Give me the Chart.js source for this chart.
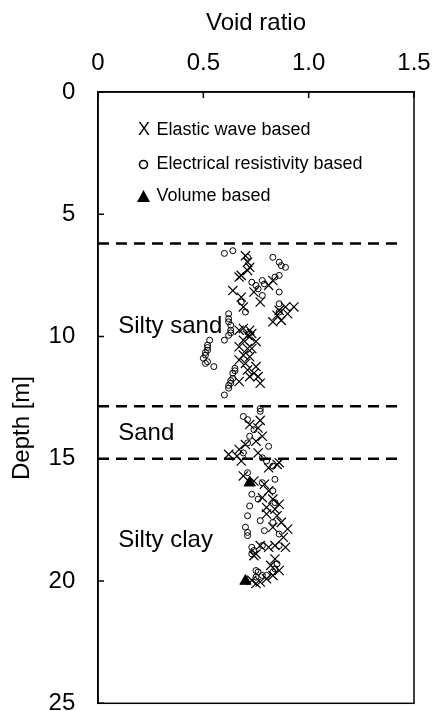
<!DOCTYPE html>
<html>
<head>
<meta charset="utf-8">
<script src="https://cdn.jsdelivr.net/npm/chart.js@4.4.1/dist/chart.umd.min.js"></script>
<style>
body{margin:0;background:#fff}
canvas{display:block}
</style>
</head>
<body>
<canvas id="chart" width="432" height="711"></canvas>
<script>

// void ratio / depth [m]
const elasticVoid=[0.70,0.71,0.72,0.71,0.68,0.67,0.83,0.81,0.64,0.74,0.68,0.77,0.69,0.93,0.89,0.86,0.90,0.85,0.87,0.83,
    0.67,0.72,0.69,0.73,0.71,0.75,0.72,0.69,0.67,0.71,0.73,0.69,0.72,0.67,0.70,0.75,0.71,0.74,0.72,0.76,0.67,0.77,
    0.77,0.72,0.76,0.78,0.75,0.70,0.67,0.62,0.76,0.66,0.68,0.86,0.85,0.81,0.69,0.74,0.79,0.81,0.78,0.83,0.86,0.80,0.84,
    0.80,0.85,0.87,0.83,0.90,0.88,0.81,0.84,0.89,0.77,0.75,0.74,0.82,0.86,0.83,0.80,0.77,0.75,0.73,0.84]
const elasticDepth=[6.70,6.96,7.17,7.30,7.50,7.57,7.71,7.91,8.12,8.18,8.39,8.59,8.79,8.79,8.79,8.93,9.07,9.13,9.34,9.40,
    9.74,9.74,9.67,9.88,9.95,10.20,10.01,10.15,10.42,10.49,10.49,10.76,10.83,10.96,11.10,11.23,11.37,11.50,11.64,11.64,11.84,11.91,
    13.43,13.60,13.74,14.08,14.28,14.42,14.62,14.82,14.76,14.89,15.09,15.16,15.23,15.37,15.70,15.91,16.04,16.31,16.59,16.65,16.86,16.99,17.06,
    17.26,17.33,17.60,17.80,17.87,18.21,18.62,18.55,18.62,18.55,18.89,18.96,19.36,19.57,19.77,19.91,20.04,20.10,19.97,19.10]

const resistVoid=[0.60,0.64,0.71,0.83,0.86,0.87,0.89,0.86,0.84,0.73,0.75,0.78,0.76,0.79,0.78,0.86,0.68,0.70,0.86,0.86,
    0.62,0.62,0.62,0.63,0.63,0.63,0.62,0.60,0.53,0.52,0.52,0.52,0.51,0.51,0.50,0.51,0.52,0.55,0.65,0.65,0.64,0.64,0.63,0.63,0.62,0.62,0.60,
    0.77,0.77,0.69,0.71,0.74,0.72,0.71,0.81,0.69,0.78,0.80,0.83,0.71,0.78,0.84,0.73,0.83,0.76,0.84,0.72,
    0.71,0.77,0.83,0.70,0.71,0.71,0.79,0.86,0.86,0.78,0.73,0.74,0.73,0.85,0.84,0.83,0.80,0.78,0.75,0.75,0.76]
const resistDepth=[6.60,6.49,6.76,6.76,6.96,7.10,7.17,7.50,7.57,7.78,7.91,7.71,8.05,7.85,8.32,8.18,8.59,9.00,8.66,9.00,
    9.07,9.27,9.40,9.54,9.74,9.85,9.95,10.15,10.15,10.35,10.45,10.56,10.65,10.76,10.89,11.10,11.03,11.23,11.30,11.40,11.50,11.71,11.80,11.91,12.00,12.11,12.39,
    12.95,13.06,13.27,13.40,13.81,14.08,14.35,14.49,14.76,14.96,15.09,15.30,15.57,15.98,15.84,16.45,16.31,16.65,16.79,16.93,
    17.33,17.53,17.60,17.80,18.01,18.14,17.94,18.08,18.55,18.55,18.62,18.75,18.89,19.30,19.50,19.63,19.77,19.77,19.84,19.57,19.63]

const volumeVoid=[0.72,0.70]
const volumeDepth=[15.98,20.0]

// layer boundaries
const layerDepths=[6.2,12.85,15.0]
const layerSpan=[0,1.45]

const layerNames=["Silty sand","Sand","Silty clay"]
const layerNameDepths=[9.6,13.98,18.33]

const xTickLabels=["0","0.5","1.0","1.5"]
const legendNames=["Elastic wave based","Electrical resistivity based","Volume based"]

const FONT="'Liberation Sans', Arial, sans-serif"
Chart.defaults.font.family=FONT
Chart.defaults.color="#000"

function pts(xs,ys){
    return xs.map((x,i)=>({x:x,y:ys[i]}))
}

const layerSets=layerDepths.map(d=>({
    data:layerSpan.map(x=>({x:x,y:d})),
    showLine:true,
    borderColor:"#000",
    borderWidth:2.5,
    borderDash:[11,7],
    pointRadius:0,
    order:5
}))

const decor={
    id:"decor",
    afterDatasetsDraw(chart){
        const ctx=chart.ctx
        const a=chart.chartArea
        const xs=chart.scales.x
        const ys=chart.scales.y
        ctx.save()

        ctx.strokeStyle="#000"
        ctx.lineWidth=1.5
        ctx.strokeRect(a.left,a.top,a.right-a.left,a.bottom-a.top)

        // inward tick marks
        ctx.beginPath()
        xs.ticks.forEach(t=>{
            const px=xs.getPixelForValue(t.value)
            ctx.moveTo(px,a.top)
            ctx.lineTo(px,a.top+6)
        })
        ys.ticks.forEach(t=>{
            const py=ys.getPixelForValue(t.value)
            ctx.moveTo(a.left,py)
            ctx.lineTo(a.left+6,py)
        })
        ctx.stroke()

        // layer names
        ctx.fillStyle="#000"
        ctx.font="24px "+FONT
        ctx.textAlign="left"
        ctx.textBaseline="middle"
        layerNames.forEach((n,i)=>{
            ctx.fillText(n,xs.getPixelForValue(0.096),ys.getPixelForValue(layerNameDepths[i]))
        })

        // legend
        ctx.font="18px "+FONT
        const ly=[130,164.5,196]
        legendNames.forEach((n,i)=>{
            ctx.fillText(n,156.5,ly[i])
        })
        ctx.font="18px "+FONT
        ctx.textAlign="center"
        ctx.fillText("X",144,ly[0])
        ctx.lineWidth=1.6
        ctx.beginPath()
        ctx.arc(143.5,ly[1],4,0,Math.PI*2)
        ctx.stroke()
        ctx.beginPath()
        ctx.moveTo(143.5,ly[2]-6)
        ctx.lineTo(150,ly[2]+6)
        ctx.lineTo(137,ly[2]+6)
        ctx.closePath()
        ctx.fill()

        // y axis title
        ctx.font="24px "+FONT
        ctx.translate(22,428)
        ctx.rotate(-Math.PI/2)
        ctx.textAlign="center"
        ctx.fillText("Depth [m]",0,0)

        ctx.restore()
    }
}

new Chart(document.getElementById("chart"),{
    type:"scatter",
    data:{
        datasets:[
            {
                label:legendNames[0],
                data:pts(elasticVoid,elasticDepth),
                pointStyle:"crossRot",
                pointRadius:6.5,
                borderColor:"#000",
                borderWidth:1.2,
                order:2
            },
            {
                label:legendNames[1],
                data:pts(resistVoid,resistDepth),
                pointStyle:"circle",
                pointRadius:3,
                borderColor:"#000",
                backgroundColor:"rgba(0,0,0,0)",
                borderWidth:1,
                order:3
            },
            {
                label:legendNames[2],
                data:pts(volumeVoid,volumeDepth),
                pointStyle:"triangle",
                pointRadius:6.5,
                borderColor:"#000",
                backgroundColor:"#000",
                borderWidth:1,
                order:1
            },
            ...layerSets
        ]
    },
    options:{
        responsive:false,
        animation:false,
        layout:{padding:{left:0,right:18,top:0,bottom:4}},
        plugins:{
            legend:{display:false},
            tooltip:{enabled:false}
        },
        scales:{
            x:{
                type:"linear",
                position:"top",
                min:0,
                max:1.5,
                ticks:{
                    stepSize:0.5,
                    padding:14,
                    font:{size:24},
                    callback:(v,i)=>xTickLabels[i]
                },
                grid:{display:false,drawTicks:false},
                border:{color:"#000",width:1.5},
                title:{display:true,text:"Void ratio",font:{size:24},padding:{top:9,bottom:0}},
                afterFit(s){
                    s.height=92
                    s.paddingLeft=0
                    s.paddingRight=0
                }
            },
            y:{
                type:"linear",
                reverse:true,
                min:0,
                max:25,
                ticks:{
                    stepSize:5,
                    padding:22.7,
                    font:{size:24}
                },
                grid:{display:false,drawTicks:false},
                border:{color:"#000",width:1.5},
                afterFit(s){
                    s.width=98
                    s.paddingTop=0
                    s.paddingBottom=0
                }
            }
        }
    },
    plugins:[decor]
})
</script>
</body>
</html>
